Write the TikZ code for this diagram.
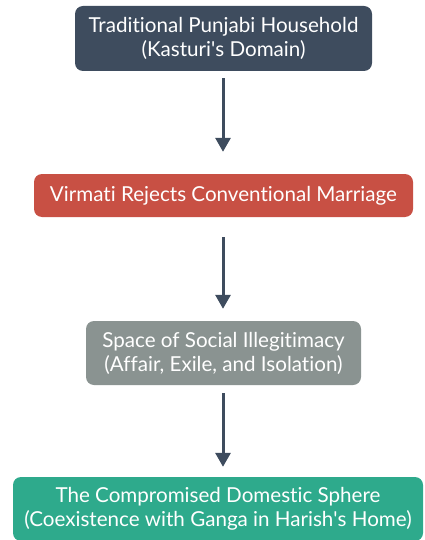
\documentclass[tikz,border=0pt]{standalone}
\usepackage{fontspec}
\setmainfont{Lato}[Ligatures={NoCommon}]
\usepackage{xcolor}
\usetikzlibrary{arrows.meta}
\definecolor{slate}{RGB}{62,76,94}
\definecolor{brick}{RGB}{200,80,68}
\definecolor{ash}{RGB}{138,147,145}
\definecolor{jade}{RGB}{46,170,140}
\tikzset{>={Triangle[width=15pt,length=14pt]}}
\tikzset{
  stage/.style={
    rounded corners=8pt,
    text=white,
    align=center,
    inner sep=0pt,
    minimum height=64pt,
    font=\fontsize{20.6}{24}\selectfont
  }}
\tikzset{
  flow/.style={->,line width=3pt,draw=slate}}

\begin{document}
\begin{tikzpicture}[x=1pt,y=-1pt]
    \useasboundingbox (0,0) rectangle (425,540);
    \node[stage,fill=slate,minimum width=297pt,minimum height=65pt](home) at (223.5,38.5)
        {Traditional Punjabi Household\\(Kasturi\textquotesingle s Domain)};
    \node[stage,fill=brick,minimum width=379pt,minimum height=43pt](reject) at (223.5,195.5)
        {Virmati Rejects Conventional Marriage};
    \node[stage,fill=ash,minimum width=275pt](exile) at (223.5,353)
        {Space of Social Illegitimacy\\(Affair, Exile, and Isolation)};
    \node[stage,fill=jade,minimum width=410pt](compromise) at (218,509)
        {The Compromised Domestic Sphere\\(Coexistence with Ganga in Harish\textquotesingle s Home)};
    % arrows between the stages
    \draw[flow,shorten <=7pt,shorten >=22pt] (home.south -| 223,0) -- (reject.north -| 223,0);
    \draw[flow,shorten <=20pt,shorten >=12pt] (reject.south -| 223,0) -- (exile.north -| 223,0);
    \draw[flow,shorten <=8pt,shorten >=10pt] (exile.south -| 223,0) -- (compromise.north -| 223,0);
\end{tikzpicture}
\end{document}
